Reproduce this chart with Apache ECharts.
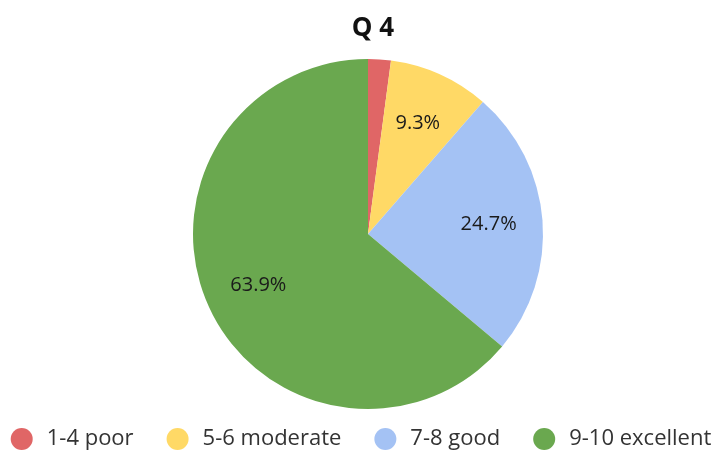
<!DOCTYPE html>
<html><head><meta charset="utf-8">
<script src="https://cdn.jsdelivr.net/npm/echarts@6/dist/echarts.min.js"></script>
<style>html,body{margin:0;padding:0;background:#fff}#c{width:722px;height:454px}</style>
</head><body><div id="c"></div>
<script>
const categories = ['1-4 poor', '5-6 moderate', '7-8 good', '9-10 excellent'];
const values = [2.1, 9.3, 24.7, 63.9];
const colors = ['#e06666', '#ffd966', '#a4c2f4', '#6aa84f'];
const title = 'Q 4';

const chart = echarts.init(document.getElementById('c'));
const data = categories.map((n, i) => ({ name: n, value: values[i], itemStyle: { color: colors[i] } }));
chart.setOption({
  animation: false,
  title: { text: title, left: 368, top: 11, textAlign: 'center',
    textStyle: { fontFamily: 'Open Sans', fontSize: 26, fontWeight: 'bold', color: '#111' } },
  legend: {
    top: 423, left: 'center', icon: 'circle', itemWidth: 22, itemHeight: 22, itemGap: 33,
    data: categories,
    textStyle: { fontFamily: 'Open Sans', fontSize: 22, color: '#333', padding: [0, 0, 0, 9] }
  },
  series: [
    { type: 'pie', center: [368, 234], radius: [0, 175], startAngle: 90, clockwise: true,
      data: data, label: { show: false }, labelLine: { show: false }, silent: true },
    { type: 'pie', center: [368, 234], radius: [96, 140], startAngle: 90, clockwise: true, silent: true,
      data: categories.map((n, i) => ({ name: n, value: values[i],
        itemStyle: { color: 'rgba(0,0,0,0)' },
        label: { show: i > 0 } })),
      label: { position: 'inside', formatter: p => p.value.toFixed(1) + '%',
        fontFamily: 'Open Sans', fontSize: 20, color: '#1a1a1a' },
      labelLine: { show: false }
    }
  ]
});
</script></body></html>
